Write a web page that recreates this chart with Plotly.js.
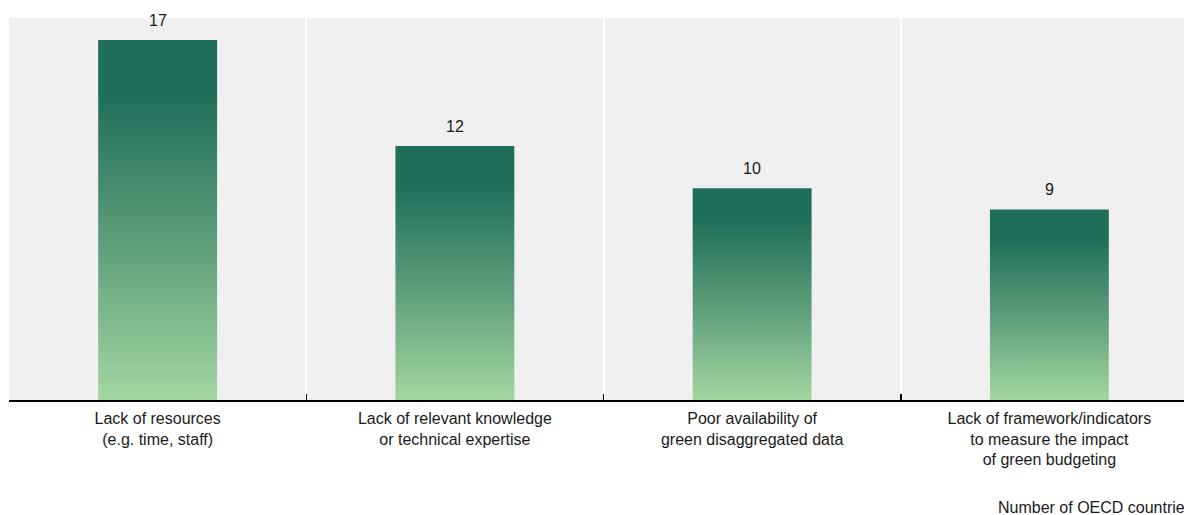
<!DOCTYPE html>
<html>
<head>
<meta charset="utf-8">
<script src="https://cdn.plot.ly/plotly-3.0.1.min.js"></script>
<style>
  html, body { margin: 0; padding: 0; background: #fff; overflow: hidden; width: 1184px; height: 515px; }
  #chart { width: 1200px; height: 515px; }
</style>
</head>
<body>
<div id="chart"></div>
<script>
// Challenges reported by OECD countries in green budgeting
const categories = [
  'Lack of resources<br>(e.g. time, staff)',
  'Lack of relevant knowledge<br>or technical expertise',
  'Poor availability of<br>green disaggregated data',
  'Lack of framework/indicators<br>to measure the impact<br>of green budgeting'
];
const countries = [17, 12, 10, 9];
const unitLabel = 'Number of OECD countries';

const FONT = '"Liberation Sans", Arial, sans-serif';

const trace = {
  type: 'bar',
  x: categories,
  y: countries,
  marker: { color: '#5a9a78', line: { width: 0 } },
  hoverinfo: 'skip'
};

const valueLabels = categories.map((c, i) => ({
  x: c, y: countries[i], xref: 'x', yref: 'y',
  text: String(countries[i]),
  showarrow: false, yanchor: 'bottom', yshift: 9,
  font: { family: FONT, size: 16, color: '#1a1a1a' }
}));

const layout = {
  width: 1200, height: 515,
  margin: { l: 9, r: 2, t: 18, b: 115 },
  paper_bgcolor: '#ffffff',
  plot_bgcolor: '#f0f0f0',
  bargap: 0.6,
  showlegend: false,
  font: { family: FONT, size: 16, color: '#1a1a1a' },
  xaxis: {
    type: 'category',
    tickson: 'boundaries',
    ticks: 'inside', ticklen: 6, tickwidth: 1.5, tickcolor: '#000',
    ticklabelstandoff: 3,
    showgrid: true, gridcolor: '#ffffff', gridwidth: 2,
    showline: true, linecolor: '#000', linewidth: 1.5,
    tickfont: { family: FONT, size: 16, color: '#1a1a1a' },
    layer: 'above traces',
    fixedrange: true
  },
  yaxis: {
    range: [0, 18.04],
    showgrid: false, zeroline: false, showticklabels: false, showline: false,
    fixedrange: true
  },
  annotations: valueLabels.concat([{
    xref: 'paper', yref: 'paper', x: 1, y: 0, yshift: -107, xshift: -3,
    xanchor: 'right', yanchor: 'middle',
    text: unitLabel, showarrow: false,
    font: { family: FONT, size: 16, color: '#1a1a1a' }
  }])
};

Plotly.newPlot('chart', [trace], layout, { displayModeBar: false, staticPlot: true }).then(gd => {
  // vertical gradient fill for each bar: dark green on top fading to light green
  const svg = gd.querySelector('svg.main-svg');
  const NS = 'http://www.w3.org/2000/svg';
  let defs = svg.querySelector('defs');
  if (!defs) { defs = document.createElementNS(NS, 'defs'); svg.insertBefore(defs, svg.firstChild); }
  const grad = document.createElementNS(NS, 'linearGradient');
  grad.setAttribute('id', 'barGreen');
  grad.setAttribute('x1', '0'); grad.setAttribute('y1', '0');
  grad.setAttribute('x2', '0'); grad.setAttribute('y2', '1');
  [[0, '#1f6e5a'], [0.15, '#1f6e5a'], [0.55, '#5c9c7a'], [1, '#a3d6a1']].forEach(([o, c]) => {
    const s = document.createElementNS(NS, 'stop');
    s.setAttribute('offset', o); s.setAttribute('stop-color', c);
    grad.appendChild(s);
  });
  defs.appendChild(grad);
  gd.querySelectorAll('.bars .point path').forEach(p => { p.style.fill = 'url(#barGreen)'; });
});
</script>
</body>
</html>
